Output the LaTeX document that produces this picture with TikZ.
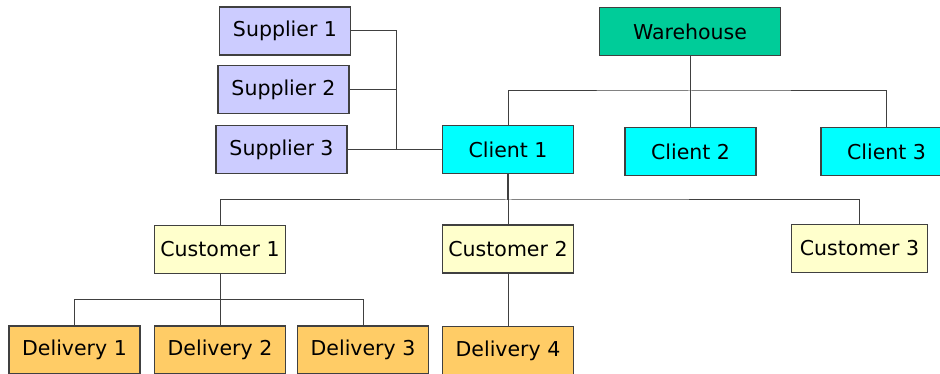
\documentclass[tikz,border=0pt]{standalone}
\usepackage{fontspec}
\setmainfont{DejaVu Sans}
\definecolor{supc}{HTML}{CCCCFF}
\definecolor{whc}{HTML}{00CC99}
\definecolor{clc}{HTML}{00FFFF}
\definecolor{cuc}{HTML}{FFFFCC}
\definecolor{dec}{HTML}{FFCC66}
\definecolor{edge}{HTML}{404040}
\tikzset{
  box/.style={draw=edge, line width=1.3pt, minimum width=131pt, minimum height=48pt,
    inner sep=0pt, font=\fontsize{20.5pt}{24pt}\selectfont, text=black},
  sup/.style={box, fill=supc},
  wh/.style={box, fill=whc, minimum width=181pt},
  cli/.style={box, fill=clc},
  cus/.style={box, fill=cuc},
  del/.style={box, fill=dec},
  link/.style={draw=edge, line width=1pt},
}
\begin{document}
\begin{tikzpicture}[x=1pt, y=-1pt]
\clip (0,0) rectangle (940,374);
\fill[white] (0,0) rectangle (940,374);
% nodes
\node[sup] (s1) at (285,31) {Supplier 1};
\node[sup] (s2) at (283.5,89.5) {Supplier 2};
\node[sup] (s3) at (281.5,149.5) {Supplier 3};
\node[wh]  (wh) at (690,31.5) {Warehouse};
\node[cli] (c1) at (508,149.5) {Client 1};
\node[cli] (c2) at (690.5,151.5) {Client 2};
\node[cli] (c3) at (886.5,151.5) {Client 3};
\node[cus] (cu1) at (220,249.5) {Customer 1};
\node[cus] (cu2) at (508,249) {Customer 2};
\node[cus, minimum width=136pt] (cu3) at (859.5,248.5) {Customer 3};
\node[del] (d1) at (74.5,350) {Delivery 1};
\node[del] (d2) at (220,350) {Delivery 2};
\node[del] (d3) at (363,350) {Delivery 3};
\node[del] (d4) at (508,350.5) {Delivery 4};
% junction coordinates
\coordinate (sb) at (396,149.5);
\coordinate (wb) at (690,91);
\coordinate (cb) at (508,200);
\coordinate (db) at (220,299.5);
% supplier links
\draw[link] (s1.east) -| (sb);
\draw[link] (s2.east) -- (s2.east -| sb);
\draw[link] (s3.east) -- (c1.west);
% warehouse links
\draw[link] (wh.south) -- (wb);
\draw[link] (c1.north) |- (wb) -| (c3.north);
\draw[link] (wb) -- (wb |- c2.north);
% client 1 to customers
\draw[link, line width=2pt] (c1.south) -- (cb);
\draw[link] (cu1.north) |- (cb) -| (cu3.north);
\draw[link] (cb) -- (cb |- cu2.north);
% customers to deliveries
\draw[link] (cu1.south) -- (cu1.south |- d2.north);
\draw[link] (d1.north) |- (db) -| (d3.north);
\draw[link] (cu2.south) -- (cu2.south |- d4.north);
\end{tikzpicture}
\end{document}
